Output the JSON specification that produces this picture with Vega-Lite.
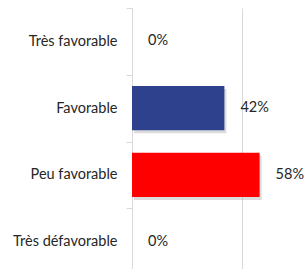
{
  "$schema": "https://vega.github.io/schema/vega-lite/v6.json",
  "autosize": {"type": "none"},
  "width": 154,
  "height": 267,
  "padding": {"left": 132, "top": 8, "right": 18, "bottom": 0},
  "background": "white",
  "config": {"view": {"stroke": null}, "font": "Lato"},
  "data": {
    "values": [
      {"categorie": "Très favorable", "part": 0, "couleur": "#2E418C"},
      {"categorie": "Favorable", "part": 0.42, "couleur": "#2E418C"},
      {"categorie": "Peu favorable", "part": 0.58, "couleur": "#FF0000"},
      {"categorie": "Très défavorable", "part": 0, "couleur": "#FF0000"}
    ]
  },
  "encoding": {
    "y": {
      "field": "categorie",
      "type": "nominal",
      "sort": ["Très favorable", "Favorable", "Peu favorable", "Très défavorable"],
      "scale": {"paddingInner": 0, "paddingOuter": 0},
      "axis": {
        "title": null,
        "tickBand": "extent",
        "domainColor": "#d9d9d9",
        "tickColor": "#d9d9d9",
        "tickSize": 6,
        "labelPadding": 9,
        "labelFont": "Lato",
        "labelFontSize": 14.5,
        "labelColor": "#262626",
        "grid": false
      }
    },
    "x": {
      "field": "part",
      "type": "quantitative",
      "scale": {"domain": [0, 0.7], "nice": false},
      "axis": {
        "title": null,
        "values": [0.5],
        "grid": true,
        "gridColor": "#d9d9d9",
        "gridWidth": 1,
        "domain": false,
        "ticks": false,
        "labels": false
      }
    }
  },
  "layer": [
    {
      "mark": {"type": "bar", "height": {"band": 0.66}, "color": "#9a9a9a", "opacity": 0.35, "xOffset": 2, "x2Offset": 4, "yOffset": 3, "y2Offset": 3},
      "transform": [{"filter": "datum.part > 0"}]
    },
    {
      "mark": {"type": "bar", "height": {"band": 0.66}},
      "encoding": {"color": {"field": "couleur", "type": "nominal", "scale": null}}
    },
    {
      "mark": {"type": "text", "align": "left", "baseline": "middle", "dx": 16, "font": "Lato", "fontSize": 14.5, "color": "#262626"},
      "encoding": {"text": {"field": "part", "type": "quantitative", "format": ".0%"}}
    }
  ]
}
